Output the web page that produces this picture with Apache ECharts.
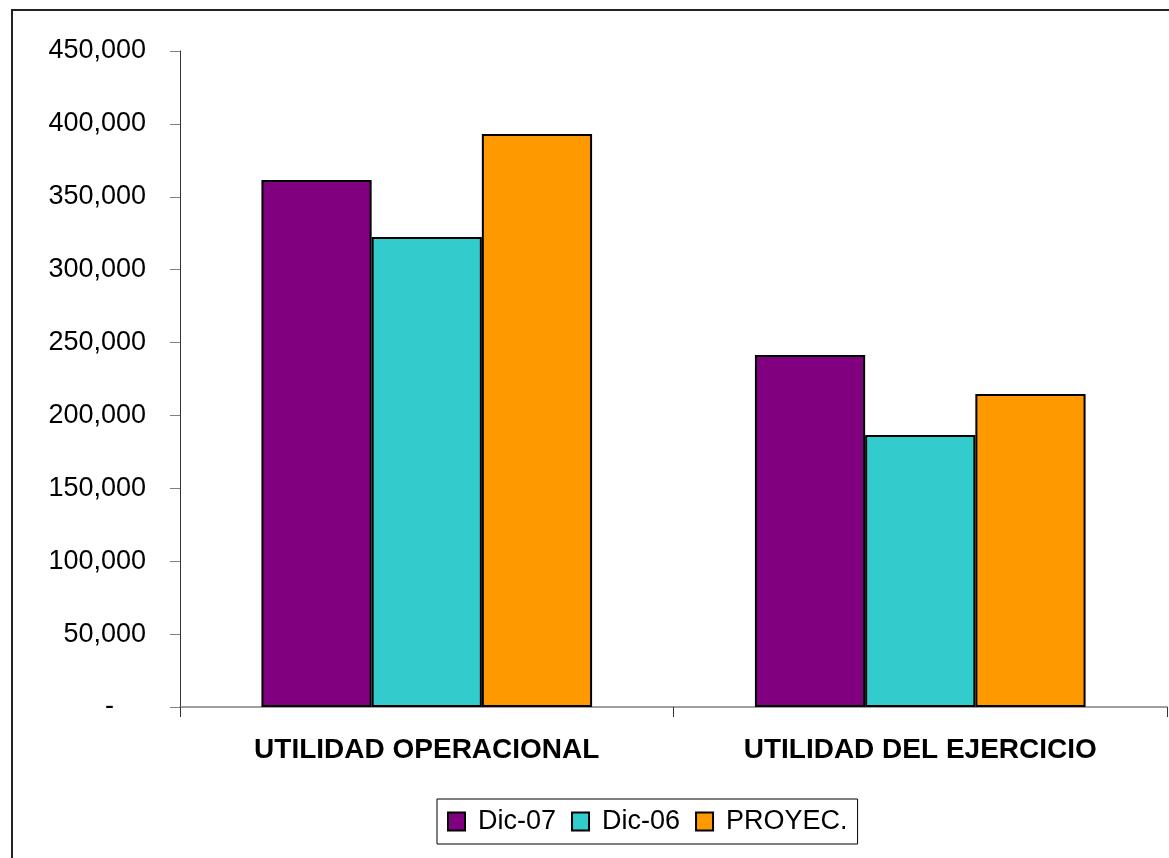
<!DOCTYPE html>
<html>
<head>
<meta charset="utf-8">
<script src="https://cdn.jsdelivr.net/npm/echarts@6/dist/echarts.min.js"></script>
<style>
html,body{margin:0;padding:0;background:#fff;}
#main{width:1169px;height:858px;}
</style>
</head>
<body>
<div id="main"></div>
<script>
var categories = ['UTILIDAD OPERACIONAL', 'UTILIDAD DEL EJERCICIO'];
var seriesNames = ['Dic-07', 'Dic-06', 'PROYEC.'];
var dic07 = [361500, 241500];
var dic06 = [322400, 186600];
var proyec = [393000, 214700];
var colors = ['#800080', '#33CCCC', '#FF9900'];

var chart = echarts.init(document.getElementById('main'));
function mk(name, data, color) {
  return {
    name: name, type: 'bar', data: data,
    barGap: '0%', barCategoryGap: '33%',
    itemStyle: { color: color, borderColor: '#000', borderWidth: 2 },
    emphasis: { disabled: true }
  };
}
chart.setOption({
  animation: false,
  backgroundColor: '#fff',
  graphic: [{
    type: 'rect', shape: { x: 12, y: 10, width: 1200, height: 900 },
    style: { fill: 'none', stroke: '#222', lineWidth: 2 }, z: -1
  }],
  grid: { left: 180, top: 51, right: 2, bottom: 151 },
  legend: {
    data: seriesNames,
    top: 799, left: 437,
    itemWidth: 17, itemHeight: 18, itemGap: 15,
    icon: 'rect',
    borderColor: '#000', borderWidth: 1,
    padding: [9, 10, 9, 10],
    textStyle: { fontFamily: 'Liberation Sans, Arial', fontSize: 27, color: '#000', padding: [0, 0, 0, 8] }
  },
  xAxis: {
    type: 'category', data: categories,
    axisLine: { lineStyle: { color: '#808080', width: 1.5 } },
    axisTick: { show: true, length: 10, lineStyle: { color: '#333' } },
    axisLabel: { fontFamily: 'Liberation Sans, Arial', fontWeight: 'bold', fontSize: 28, color: '#000', margin: 29 }
  },
  yAxis: {
    type: 'value', min: 0, max: 450000, interval: 50000,
    axisLine: { show: true, lineStyle: { color: '#333', width: 1 } },
    axisTick: { show: true, length: 10, inside: false, lineStyle: { color: '#808080' } },
    splitLine: { show: false },
    axisLabel: {
      fontFamily: 'Liberation Sans, Arial', fontSize: 27, color: '#000', margin: 34,
      formatter: function (v) { return v === 0 ? '{d|-}' : v.toString().replace(/\B(?=(\d{3})+(?!\d))/g, ','); },
      rich: { d: { fontFamily: 'Liberation Sans, Arial', fontSize: 27, color: '#000', padding: [0, 32, 0, 0] } }
    }
  },
  series: [mk(seriesNames[0], dic07, colors[0]), mk(seriesNames[1], dic06, colors[1]), mk(seriesNames[2], proyec, colors[2])]
});
</script>
</body>
</html>
